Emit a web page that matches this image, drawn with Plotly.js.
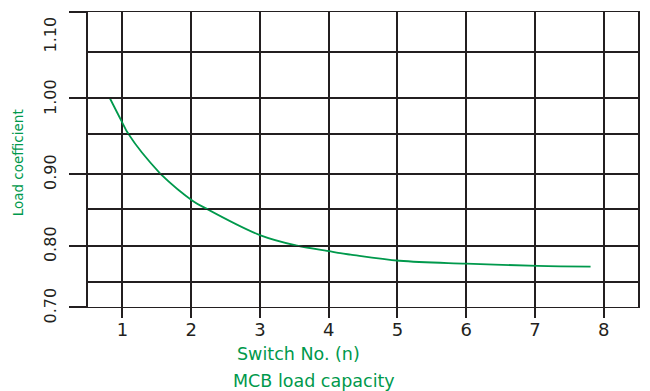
<!DOCTYPE html>
<html>
<head>
<meta charset="utf-8">
<script src="https://cdn.plot.ly/plotly-3.0.1.min.js"></script>
<style>
  html, body { margin: 0; padding: 0; background: #ffffff; }
  #chart { width: 650px; height: 391px; }
</style>
</head>
<body>
<div id="chart"></div>
<script>
// ---- data ----
const switchNo = [0.82, 0.99, 1.09, 1.55, 2.03, 2.23, 3.01, 3.54, 4.03, 4.17, 4.32, 5.03, 6.00, 7.04, 7.81];
const loadCoef = [1.000, 0.968, 0.950, 0.900, 0.861, 0.850, 0.814, 0.800, 0.792, 0.7895, 0.7875, 0.779, 0.775, 0.772, 0.771];
const xTickVals = [1, 2, 3, 4, 5, 6, 7, 8];
const yGridVals = [0.70, 0.75, 0.80, 0.85, 0.90, 0.95, 1.00, 1.05, 1.10];
const yLabelVals = [0.70, 0.80, 0.90, 1.00, 1.10];
const yLabelText = ['0.70', '0.80', '0.90', '1.00', '1.10'];
const yTitle = 'Load coefficient';
const xTitle = 'Switch No. (n)';
const chartTitle = 'MCB load capacity';

// ---- styling / layout (the reference's vertical scale is uneven: each grid band has its own height) ----
const bandEdges = [0, 0.0859, 0.2080, 0.3325, 0.4523, 0.5860, 0.7068, 0.8629, 1];
const ink = '#231f20';
const green = '#00994c';
const fontFam = 'DejaVu Sans, Liberation Sans, Arial, sans-serif';

const traces = [];
const layout = {
  width: 650, height: 391,
  margin: {l: 87.5, r: 12.3, t: 12.3, b: 84, pad: 0},
  paper_bgcolor: '#ffffff', plot_bgcolor: '#ffffff',
  showlegend: false,
  hovermode: false,
  font: {family: fontFam, color: ink},
  xaxis: {
    range: [0.5, 8.5], domain: [0, 1], anchor: 'y',
    tickmode: 'array', tickvals: xTickVals, ticktext: xTickVals.map(String),
    ticks: 'outside', ticklen: 10, tickwidth: 2, tickcolor: ink,
    ticklabelstandoff: -4,
    tickfont: {family: fontFam, size: 18, color: ink},
    showline: true, mirror: 'all', linecolor: ink, linewidth: 1,
    showgrid: true, gridcolor: ink, gridwidth: 2, zeroline: false
  },
  annotations: [
    {text: yTitle, xref: 'paper', yref: 'paper', x: -0.128, y: 0.489, textangle: -90,
     showarrow: false, xanchor: 'center', yanchor: 'middle', font: {family: fontFam, size: 13.5, color: green}},
    {text: xTitle, xref: 'paper', yref: 'paper', x: 0.3826, y: -0.1595,
     showarrow: false, xanchor: 'center', yanchor: 'middle', font: {family: fontFam, size: 17.5, color: green}},
    {text: chartTitle, xref: 'paper', yref: 'paper', x: 0.4117, y: -0.252,
     showarrow: false, xanchor: 'center', yanchor: 'middle', font: {family: fontFam, size: 17.5, color: green}}
  ]
};

for (let i = 0; i < yGridVals.length - 1; i++) {
  const lo = yGridVals[i], hi = yGridVals[i + 1];
  const name = i === 0 ? 'yaxis' : 'yaxis' + (i + 1);
  const ref = i === 0 ? 'y' : 'y' + (i + 1);
  const isTop = i === yGridVals.length - 2;
  const tv = [], tt = [];
  yLabelVals.forEach((v, k) => {
    if (Math.abs(v - lo) < 1e-9 || (isTop && Math.abs(v - hi) < 1e-9)) { tv.push(v); tt.push(yLabelText[k]); }
  });
  layout[name] = {
    range: [lo, hi], domain: [bandEdges[i], bandEdges[i + 1]], anchor: 'x',
    tickmode: 'array', tickvals: tv, ticktext: tt,
    ticks: tv.length ? 'outside' : '', ticklen: 17, tickwidth: 2, tickcolor: ink,
    tickangle: -90, tickfont: {family: fontFam, size: 16, color: ink},
    ticklabelshift: isTop ? 25 : 1,
    ticklabelstandoff: 7,
    showline: true, mirror: true, linecolor: ink, linewidth: 2,
    showgrid: false, zeroline: false
  };
  traces.push({
    type: 'scatter', mode: 'lines', x: switchNo, y: loadCoef,
    xaxis: 'x', yaxis: ref,
    line: {color: green, width: 1.8, shape: 'spline', smoothing: 1},
    hoverinfo: 'skip'
  });
}

Plotly.newPlot('chart', traces, layout, {displayModeBar: false, staticPlot: true});
</script>
</body>
</html>
